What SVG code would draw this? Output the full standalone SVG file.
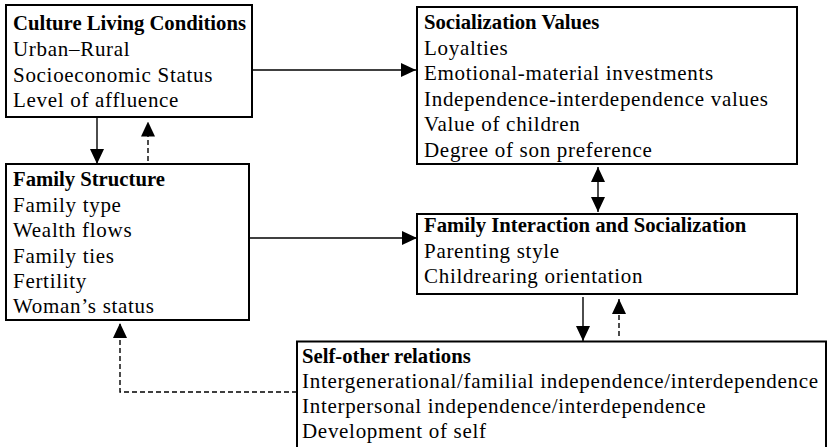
<svg xmlns="http://www.w3.org/2000/svg" width="828" height="447" viewBox="0 0 828 447">
<style>
  .box { fill: #fff; stroke: #000; stroke-width: 2; }
  text { font-family: "Liberation Serif", "Times New Roman", serif; font-size: 21px; fill: #000; letter-spacing: 0.7px; }
  .t { font-weight: bold; letter-spacing: 0; font-size: 20.7px; }
  .c { fill: none; stroke: #000; stroke-width: 1.4; }
  .d { stroke-dasharray: 5 3; }
</style>
<defs>
  <marker id="ah" markerUnits="userSpaceOnUse" markerWidth="15" markerHeight="14" refX="15" refY="7" orient="auto-start-reverse" viewBox="0 0 15 14">
    <path d="M0,0 L15,7 L0,14 Z" fill="#000" stroke="none"/>
  </marker>
</defs>
<rect width="828" height="447" fill="#fff"/>
<g id="connectors">
  <path class="c" d="M252,70 H416" marker-end="url(#ah)"/>
  <path class="c" d="M97,117 V164" marker-end="url(#ah)"/>
  <path class="c d" d="M148,161 V121.5" marker-end="url(#ah)"/>
  <path class="c" d="M249,238 H417" marker-end="url(#ah)"/>
  <path class="c" d="M598,167 V212" marker-start="url(#ah)" marker-end="url(#ah)"/>
  <path class="c" d="M583,297 V341" marker-end="url(#ah)"/>
  <path class="c d" d="M619,336 V299" marker-end="url(#ah)"/>
  <path class="c d" d="M297,392 H120 V323" marker-end="url(#ah)"/>
</g>
<g id="culture">
  <rect class="box" x="6" y="5" width="246" height="112"/>
  <text class="t" x="13" y="30">Culture Living Conditions</text>
  <text x="13" y="56">Urban–Rural</text>
  <text x="13" y="82">Socioeconomic Status</text>
  <text x="13" y="107">Level of affluence</text>
</g>
<g id="socialization-values">
  <rect class="box" x="417" y="7" width="380" height="157"/>
  <text class="t" x="424" y="29">Socialization Values</text>
  <text x="424" y="54.5">Loyalties</text>
  <text x="424" y="80">Emotional-material investments</text>
  <text x="424" y="105.5">Independence-interdependence values</text>
  <text x="424" y="131">Value of children</text>
  <text x="424" y="156.5">Degree of son preference</text>
</g>
<g id="family-structure">
  <rect class="box" x="6" y="164" width="243" height="156"/>
  <text class="t" x="13" y="186">Family Structure</text>
  <text x="13" y="211.5">Family type</text>
  <text x="13" y="237">Wealth flows</text>
  <text x="13" y="262.5">Family ties</text>
  <text x="13" y="288">Fertility</text>
  <text x="13" y="313">Woman’s status</text>
</g>
<g id="family-interaction">
  <rect class="box" x="417" y="214" width="380" height="80"/>
  <text class="t" x="424" y="232">Family Interaction and Socialization</text>
  <text x="424" y="258">Parenting style</text>
  <text x="424" y="283">Childrearing orientation</text>
</g>
<g id="self-other">
  <rect class="box" x="297" y="341.5" width="529" height="120"/>
  <text class="t" x="302" y="363">Self-other relations</text>
  <text x="302" y="388">Intergenerational/familial independence/interdependence</text>
  <text x="302" y="413">Interpersonal independence/interdependence</text>
  <text x="302" y="438">Development of self</text>
</g>
</svg>
